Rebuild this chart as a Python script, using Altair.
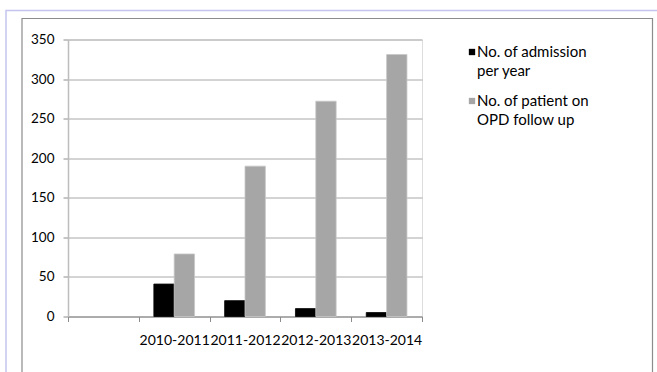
import altair as alt
import pandas as pd

categories = ["", "2010-2011", "2011-2012", "2012-2013", "2013-2014"]
years = ["2010-2011", "2011-2012", "2012-2013", "2013-2014"]
series = ["No. of admission per year", "No. of patient on OPD follow up"]
legend_lines = [["No. of admission", "per year"], ["No. of patient on", "OPD follow up"]]
admissions = [41, 20, 10, 5]
opd = [79, 190, 272, 331]
colors = ["#000000", "#a6a6a6"]
y_ticks = [0, 50, 100, 150, 200, 250, 300, 350]

rows = []
for y, a, o in zip(years, admissions, opd):
    rows.append({"period": y, "series": series[0], "value": a})
    rows.append({"period": y, "series": series[1], "value": o})
df = pd.DataFrame(rows)

FONT = "Lato"

one = pd.DataFrame({"k": [0]})
outer = alt.Chart(one).mark_rect(fill=None, stroke="#c4c4ee", strokeWidth=1.5).encode(
    x=alt.value(-62), x2=alt.value(720), y=alt.value(-29), y2=alt.value(420)
)
inner = alt.Chart(one).mark_rect(fill=None, stroke="#8c8c8c", strokeWidth=1.2).encode(
    x=alt.value(-46), x2=alt.value(584.5), y=alt.value(-21), y2=alt.value(420)
)

bars = alt.Chart(df).mark_bar(strokeWidth=0.8).encode(
    x=alt.X("period:N", scale=alt.Scale(domain=categories, paddingInner=0, paddingOuter=0),
            sort=categories,
            axis=alt.Axis(title=None, labelAngle=0, tickBand="extent", tickSize=5,
                          labelFont=FONT, labelFontSize=14, labelColor="#000000",
                          labelPadding=12, domainColor="#8c8c8c", tickColor="#8c8c8c",
                          labelOverlap=False, grid=False)),
    xOffset=alt.XOffset("series:N", scale=alt.Scale(domain=series, paddingOuter=0.74, paddingInner=0)),
    y=alt.Y("value:Q", scale=alt.Scale(domain=[0, 350], nice=False),
            axis=alt.Axis(title=None, values=y_ticks, tickSize=5, labelFont=FONT,
                          labelFontSize=13.5, labelColor="#000000", labelPadding=9,
                          domainColor="#bdbdbd", domainWidth=1.5, tickColor="#8c8c8c",
                          gridColor="#a8a8a8", gridWidth=1)),
    color=alt.Color("series:N", scale=alt.Scale(domain=series, range=colors), legend=None),
    stroke=alt.Stroke("series:N", scale=alt.Scale(domain=series, range=["#000000", "#c6c6c6"]),
                      legend=None),
)

# manual legend (Excel style: wrapped labels, square aligned with first line)
legend_layers = []
entry_y = [12.5, 61.5]
for i, name in enumerate(series):
    ldf = pd.DataFrame({"series": [name]})
    legend_layers.append(
        alt.Chart(ldf).mark_square(size=40, opacity=1).encode(
            x=alt.value(404), y=alt.value(entry_y[i]),
            color=alt.value(colors[i]))
    )
    for j, line in enumerate(legend_lines[i]):
        tdf = pd.DataFrame({"t": [line]})
        legend_layers.append(
            alt.Chart(tdf).mark_text(align="left", baseline="middle", font=FONT,
                                     fontSize=15, color="#000000").encode(
                x=alt.value(409), y=alt.value(entry_y[i] + 18.5 * j), text="t:N")
        )

chart = alt.layer(outer, inner, bars, *legend_layers).properties(
    width=354, height=277,
    autosize="none",
    padding={"left": 68, "top": 39.5, "right": 235, "bottom": 55.5},
).configure_view(stroke=None).configure(background="#ffffff")

chart.save("out.html", embed_options={"renderer": "svg", "actions": False})
